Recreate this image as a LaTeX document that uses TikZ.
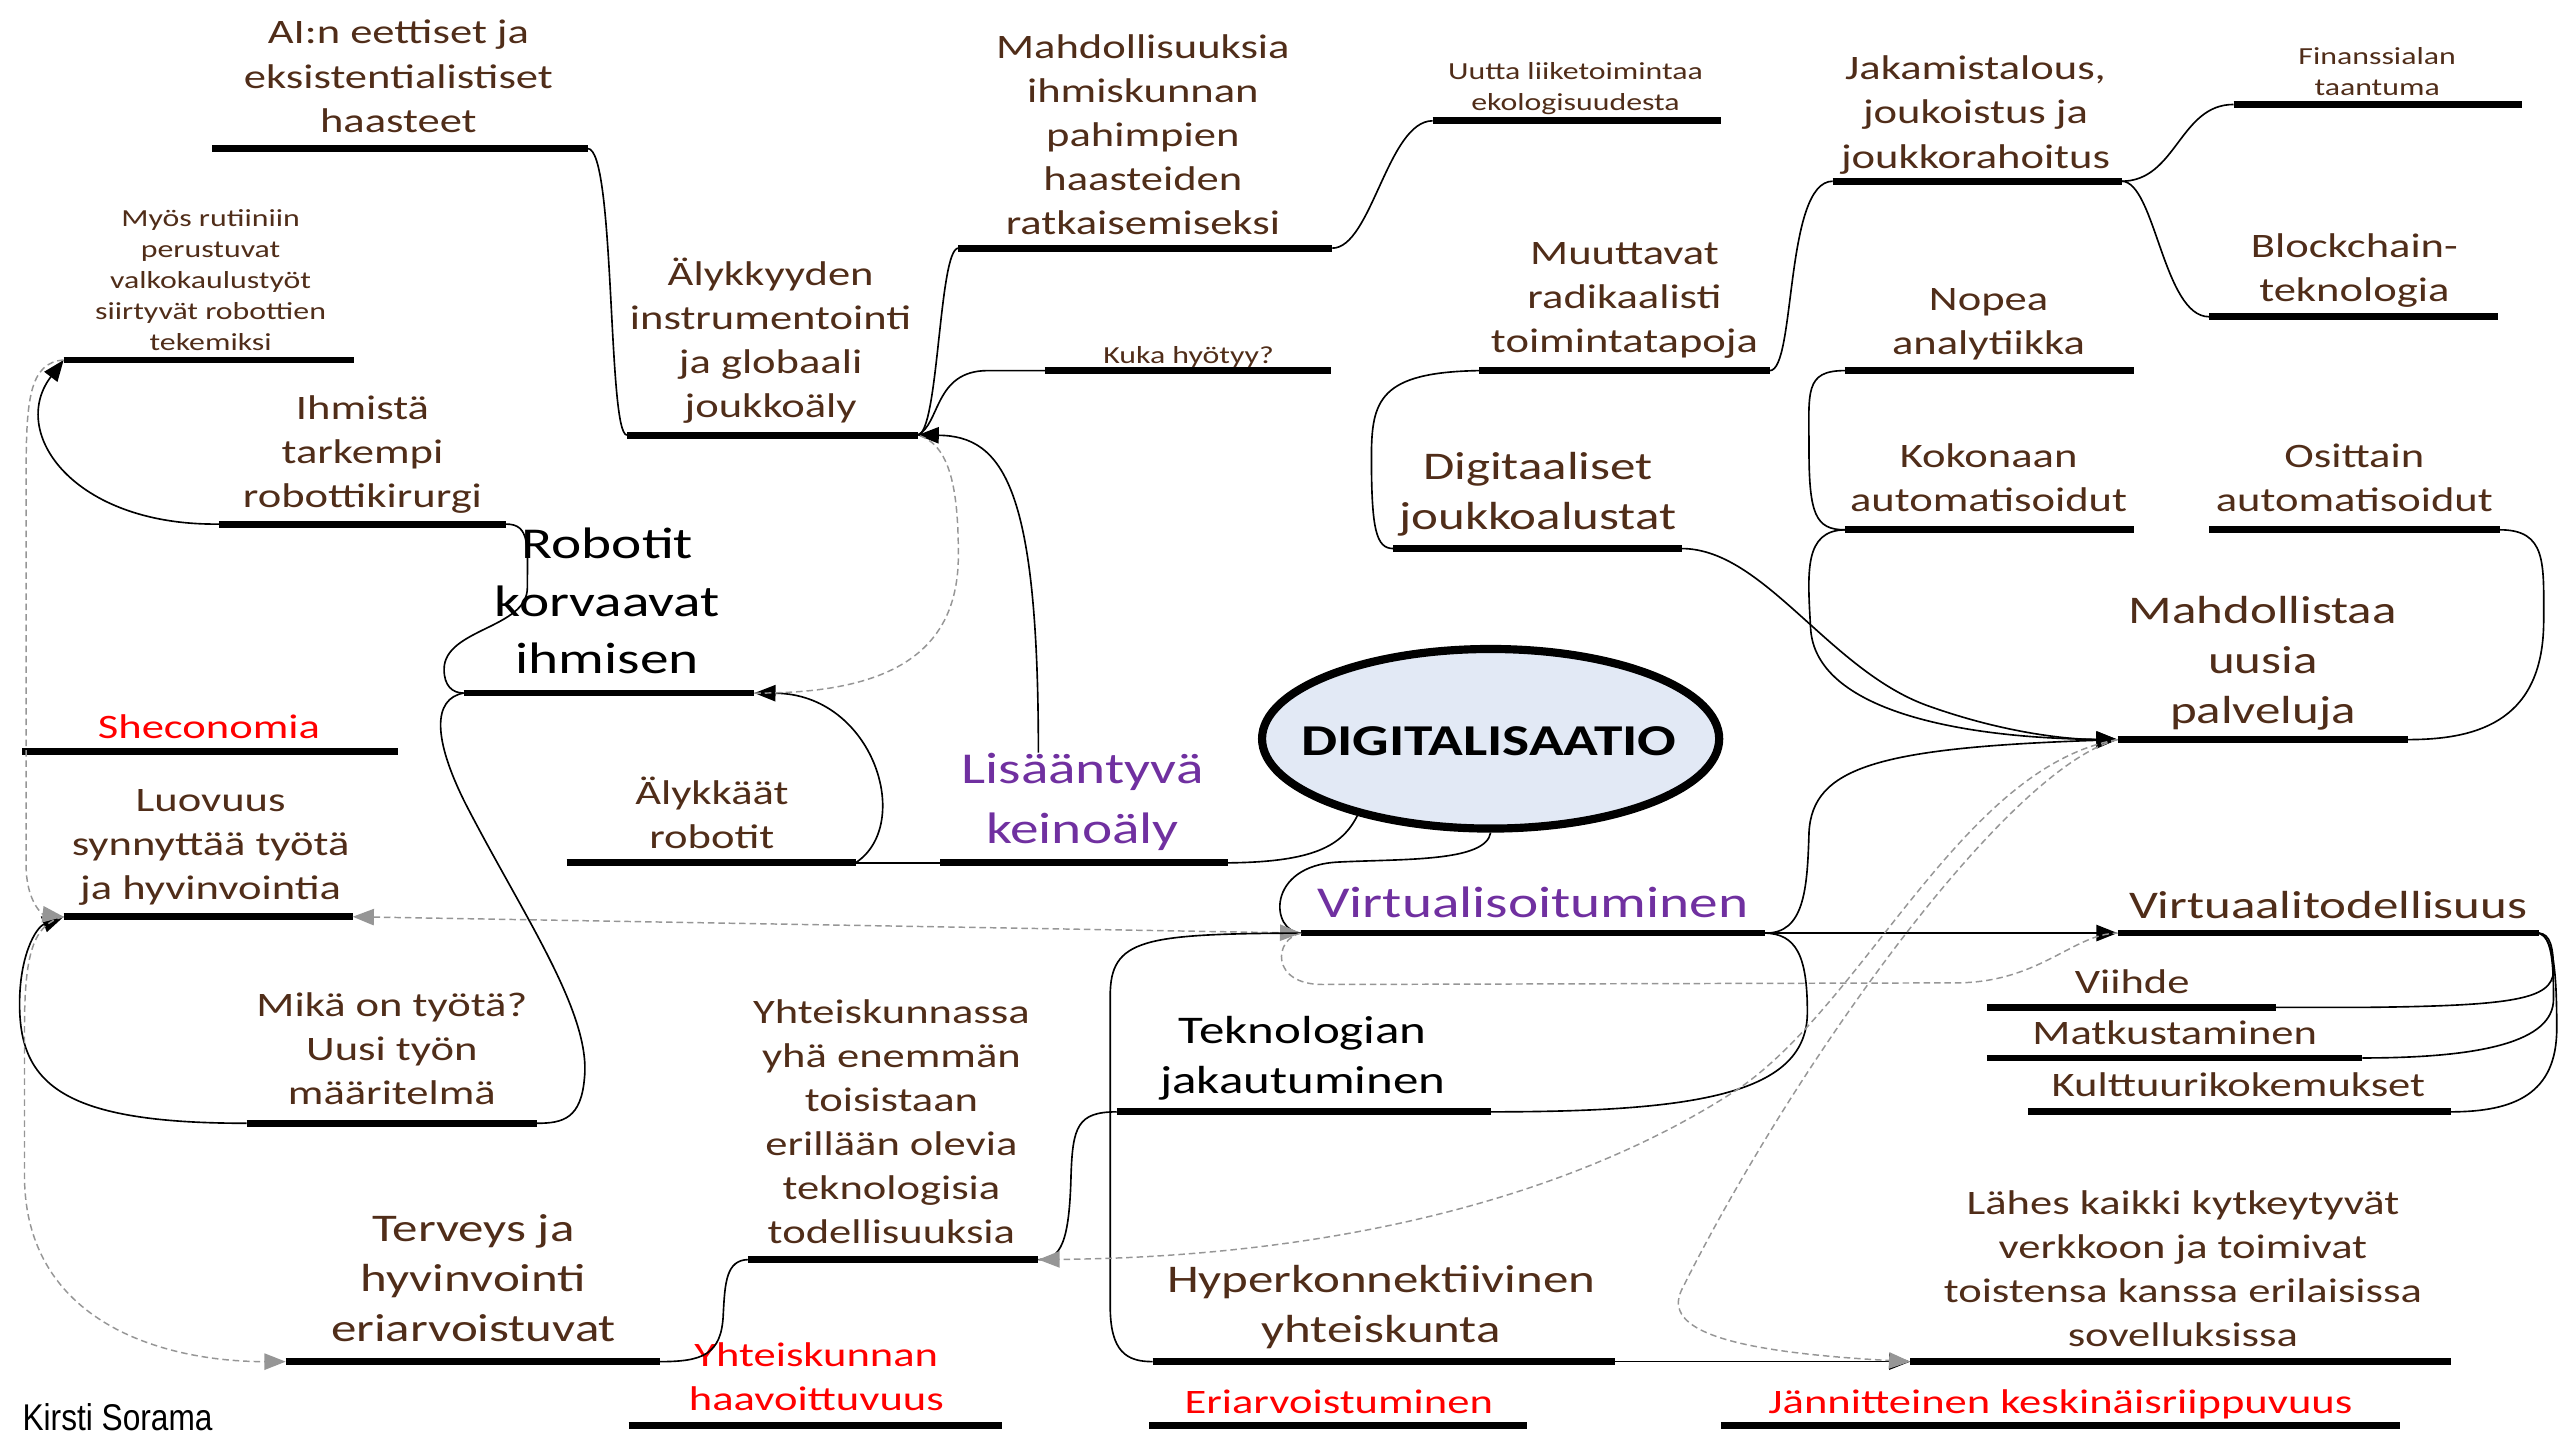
\documentclass[tikz,border=0pt]{standalone}
\usepackage{fontspec}
\setmainfont{Carlito}[FakeStretch=1.3]
\newfontfamily\signfont{Liberation Sans}[FakeStretch=0.85]
\usetikzlibrary{arrows.meta,shapes.geometric}

\definecolor{txtbrown}{RGB}{80,45,25}
\definecolor{aipurple}{RGB}{112,48,160}
\definecolor{hubblue}{RGB}{226,233,245}
\definecolor{linkgray}{RGB}{150,150,150}

% bar under a topic: name, left x, right x, y
\newcommand{\topicbar}[4]{%
  \coordinate (#1W) at (#2,#4);
  \coordinate (#1E) at (#3,#4);
  \draw[bar] (#1W) -- (#1E);}

\begin{document}
\begin{tikzpicture}[
    x=0.5pt, y=-0.5pt,
    bar/.style={line width=2.1pt},
    link/.style={line width=0.5pt},
    dashlink/.style={linkgray, line width=0.45pt, dash pattern=on 2pt off 1.2pt},
    arr/.style={-{Triangle[length=6.5pt,width=5pt]}},
    twoarr/.style={{Triangle[length=6.5pt,width=5pt]}-{Triangle[length=6.5pt,width=5pt]}},
    txt/.style={text=txtbrown, align=center, inner sep=0pt, yshift=-1.6pt,
        font=\fontsize{10.5}{13.5}\selectfont,
        execute at begin node=\strut, execute at end node=\strut},
    smalltxt/.style={txt, font=\fontsize{7.5}{9.5}\selectfont},
    midtxt/.style={txt, font=\fontsize{12}{15.25}\selectfont},
    bigtxt/.style={txt, font=\fontsize{13.5}{17.5}\selectfont},
    redtxt/.style={txt, text=red},
    hub/.style={ellipse, draw, line width=2.5pt, fill=hubblue,
        minimum width=140pt, minimum height=55pt, inner sep=0pt},
    hubtxt/.style={inner sep=0pt, font=\fontsize{13.5}{16}\selectfont\bfseries}
]
\useasboundingbox (0,0) rectangle (1568,882);

% Bars under the topics
\topicbar{ai}{130}{360}{91}
\topicbar{myos}{39}{217}{220.5}
\topicbar{ihmista}{134}{310}{321}
\topicbar{robot}{284}{462}{424.5}
\topicbar{shec}{13.7}{243.7}{460.5}
\topicbar{luov}{39}{216}{561.5}
\topicbar{mika}{151}{329}{688}
\topicbar{terveys}{175}{404}{834}
\topicbar{alyk}{384}{562}{266.5}
\topicbar{mahds}{587}{816}{152}
\topicbar{kuka}{640}{815}{227}
\topicbar{uutta}{877.5}{1054}{74}
\topicbar{muut}{906}{1084}{227}
\topicbar{jak}{1122.5}{1299.5}{111}
\topicbar{fin}{1368}{1545}{64}
\topicbar{block}{1353}{1530}{194}
\topicbar{nopea}{1130}{1307}{227}
\topicbar{kok}{1130}{1307}{324.5}
\topicbar{osit}{1353}{1531}{324.5}
\topicbar{digit}{853.5}{1030}{336}
\topicbar{mahdol}{1297}{1475}{453}
\topicbar{alykaat}{347}{524}{528.5}
\topicbar{lis}{576}{752}{528.5}
\topicbar{virt}{797}{1081}{571.5}
\topicbar{virtT}{1297}{1555}{571.5}
\topicbar{viihde}{1217}{1394}{617}
\topicbar{matk}{1217}{1447}{648}
\topicbar{kult}{1242}{1501}{681}
\topicbar{tekn}{684}{913}{681}
\topicbar{yht}{458}{636}{771.5}
\topicbar{hyper}{706}{989}{834}
\topicbar{lahes}{1170}{1501}{834}
\topicbar{haav}{385}{614}{873}
\topicbar{eriarv}{704}{935}{873}
\topicbar{jann}{1054}{1470}{873}

% Topic texts
\node[txt] (ai) at (244,47.5) {AI:n eettiset ja\\eksistentialistiset\\haasteet};
\node[smalltxt] (myos) at (129,171) {Myös rutiiniin\\perustuvat\\valkokaulustyöt\\siirtyvät robottien\\tekemiksi};
\node[txt] (ihmista) at (222,277.5) {Ihmistä\\tarkempi\\robottikirurgi};
\node[bigtxt, text=black] (robotit) at (372,370) {Robotit\\korvaavat\\ihmisen};
\node[redtxt] (shec) at (128,444) {Sheconomia};
\node[txt] (luovuus) at (129,518) {Luovuus\\synnyttää työtä\\ja hyvinvointia};
\node[txt] (mika) at (240,643) {Mikä on työtä?\\Uusi työn\\määritelmä};
\node[midtxt] (terveys) at (290,784) {Terveys ja\\hyvinvointi\\eriarvoistuvat};
\node[txt] (alyk) at (472,207.5) {Älykkyyden\\instrumentointi\\ja globaali\\joukkoäly};
\node[txt] (mahds) at (700,83.3) {Mahdollisuuksia\\ihmiskunnan\\pahimpien\\haasteiden\\ratkaisemiseksi};
\node[smalltxt] (kuka) at (728,215.5) {Kuka hyötyy?};
\node[smalltxt] (uutta) at (965,52.5) {Uutta liiketoimintaa\\ekologisuudesta};
\node[txt] (muut) at (995,183) {Muuttavat\\radikaalisti\\toimintatapoja};
\node[txt] (jak) at (1210,69.5) {Jakamistalous,\\joukoistus ja\\joukkorahoitus};
\node[smalltxt] (fin) at (1456,43.5) {Finanssialan\\taantuma};
\node[txt] (block) at (1442,164.5) {Blockchain-\\teknologia};
\node[txt] (nopea) at (1218,197.5) {Nopea\\analytiikka};
\node[txt] (kok) at (1218,293.5) {Kokonaan\\automatisoidut};
\node[txt] (osit) at (1442,293.5) {Osittain\\automatisoidut};
\node[midtxt] (digit) at (942,302) {Digitaaliset\\joukkoalustat};
\node[midtxt] (mahdol) at (1386,405.5) {Mahdollistaa\\uusia\\palveluja};
\node[txt] (alykaat) at (436,498.5) {Älykkäät\\robotit};
\node[bigtxt, text=aipurple, font=\fontsize{13.5}{18.5}\selectfont] (lis) at (663,491.5) {Lisääntyvä\\keinoäly};
\node[bigtxt, text=aipurple] (virt) at (939,552) {Virtualisoituminen};
\node[midtxt] (virtT) at (1426,553) {Virtuaalitodellisuus};
\node[txt] (viihde) at (1306,600) {Viihde};
\node[txt] (matk) at (1332,631) {Matkustaminen};
\node[txt] (kult) at (1371,663) {Kulttuurikokemukset};
\node[midtxt, text=black] (tekn) at (798,647.5) {Teknologian\\jakautuminen};
\node[txt] (yht) at (546,688) {Yhteiskunnassa\\yhä enemmän\\toisistaan\\erillään olevia\\teknologisia\\todellisuuksia};
\node[midtxt] (hyper) at (846,800) {Hyperkonnektiivinen\\yhteiskunta};
\node[txt] (lahes) at (1337,778) {Lähes kaikki kytkeytyvät\\verkkoon ja toimivat\\toistensa kanssa erilaisissa\\sovelluksissa};
\node[redtxt] (haav) at (500,844) {Yhteiskunnan\\haavoittuvuus};
\node[redtxt] (eriarv) at (820,857) {Eriarvoistuminen};
\node[redtxt] (jann) at (1262,857) {Jännitteinen keskinäisriippuvuus};
\node[font=\signfont\fontsize{11.4}{13}\selectfont, inner sep=0pt] (sign) at (72,868) {Kirsti Sorama};

% Central ellipse
\node[hub] (digi) at (913,452.5) {};
\node[hubtxt] (digiT) at (912,454) {DIGITALISAATIO};

% Left half
\draw[link] (aiE) .. controls (377,91) and (372,266) .. (alykW);
\draw[link] (alykE) .. controls (575,266) and (575,152) .. (mahdsW);
\draw[link] (alykE) .. controls (576,260) and (572,227) .. (605,227) -- (kukaW);
\draw[link] (mahdsE) .. controls (840,152) and (850,74) .. (uuttaW);
\draw[link, arr] ([xshift=-13.5pt]lis.north) .. controls (636,300) and (615,267) .. (alykE);
\draw[link, arr] (alykaatE) .. controls (560,505) and (535,425) .. (robotE);
\draw[link] (alykaatE) -- (lisW);
\draw[dashlink] (robotE) .. controls (545,425) and (587,400) .. (587,340) .. controls (587,300) and (582,272) .. (alykE);
\draw[link] (lisE) .. controls (805,528) and (822,518) .. (digi.210);
\draw[link] (digi.south) .. controls (910,528) and (860,526) .. (820,528) .. controls (775,530) and (778,571) .. (virtW);
\draw[link, arr] (ihmistaW) .. controls (45,322) and (5,265) .. (myosW);
\draw[link] (ihmistaE) .. controls (325,321) and (323,335) .. (323,360) .. controls (323,385) and (272,385) .. (272,410) .. controls (272,420) and (277,424.5) .. (robotW);
\draw[link] (robotW) .. controls (265,428) and (265,452) .. (285,492) .. controls (320,560) and (362,620) .. (358,660) .. controls (356,685) and (345,688) .. (mikaE);
\draw[link, arr] (mikaW) .. controls (40,688) and (12,665) .. (12,615) .. controls (12,585) and (22,568) .. (luovW);
\draw[dashlink, arr] (myosW) .. controls (18,222) and (16,245) .. (16,290) -- (16,530) .. controls (16,552) and (26,560) .. (luovW);
\draw[dashlink, arr] (luovW) .. controls (20,566) and (15,585) .. (15,630) -- (15,720) .. controls (15,810) and (100,834) .. (terveysW);
\draw[dashlink, twoarr] (luovE) -- (virtW);
\draw[link] (yhtW) .. controls (445,772) and (444,785) .. (443,805) .. controls (442,830) and (430,834) .. (terveysE);

% Right half
\draw[link] (muutE) .. controls (1100,227) and (1093,111) .. (jakW);
\draw[link] (jakE) .. controls (1333,111) and (1335,64) .. (finW);
\draw[link] (jakE) .. controls (1320,111) and (1325,194) .. (blockW);
\draw[link] (muutW) .. controls (845,228) and (840,245) .. (840,280) .. controls (840,325) and (843,336) .. (digitW);
\draw[link] (nopeaW) .. controls (1105,227) and (1108,240) .. (1108,275) .. controls (1108,315) and (1112,324.5) .. (kokW);
\draw[link, arr] (kokW) .. controls (1105,325) and (1107,350) .. (1109,385) .. controls (1112,435) and (1200,452) .. (mahdolW);
\draw[link, arr] (digitE) .. controls (1080,336) and (1120,410) .. (1180,432) .. controls (1230,450) and (1270,453) .. (mahdolW);
\draw[link, arr] (virtE) .. controls (1105,572) and (1107,545) .. (1108,510) .. controls (1110,470) and (1150,458) .. (mahdolW);
\draw[link] (ositE) .. controls (1560,324.5) and (1558,345) .. (1558,380) .. controls (1558,440) and (1520,453) .. (mahdolE);
\draw[link, arr] (virtE) -- (virtTW);
\draw[link] (virtTE) .. controls (1562,572) and (1564,580) .. (1564,595) .. controls (1563,612) and (1540,616) .. (1450,617) -- (viihdeE);
\draw[link] (virtTE) .. controls (1563,574) and (1564,590) .. (1564,612) .. controls (1564,638) and (1520,648) .. (matkE);
\draw[link] (virtTE) .. controls (1564,574) and (1566,595) .. (1566,630) .. controls (1566,670) and (1540,681) .. (kultE);
\draw[link] (teknE) .. controls (1040,681) and (1107,670) .. (1107,620) .. controls (1107,585) and (1100,572) .. (virtE);
\draw[link] (teknW) .. controls (660,681) and (657,690) .. (656,720) .. controls (655,760) and (650,772) .. (yhtE);
\draw[link] (virtW) .. controls (700,572) and (680,575) .. (680,610) -- (680,800) .. controls (680,828) and (690,834) .. (hyperW);
\draw[link, arr] (hyperE) -- (lahesW);
\draw[dashlink] (virtW) .. controls (780,575) and (778,603) .. (810,603) -- (1200,602) .. controls (1250,601) and (1270,572) .. (virtTW);
\draw[dashlink, arr] (mahdolW) .. controls (1200,470) and (1140,620) .. (1060,670) .. controls (950,740) and (800,770) .. (yhtE);
\draw[dashlink, arr] (mahdolW) .. controls (1230,470) and (1100,650) .. (1030,790) .. controls (1018,815) and (1060,828) .. (lahesW);

\end{tikzpicture}
\end{document}
